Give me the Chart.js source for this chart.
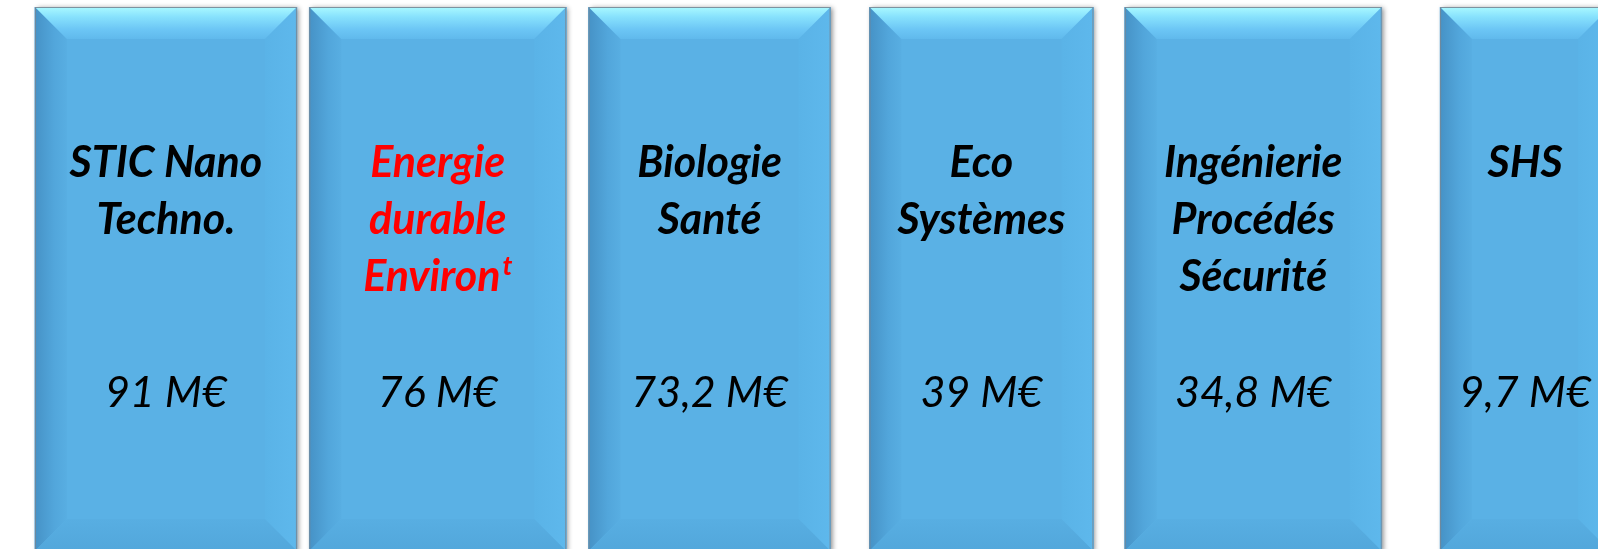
<!DOCTYPE html>
<html>
<head>
<meta charset="utf-8">
<script src="https://cdn.jsdelivr.net/npm/chart.js@4"></script>
<style>
  html, body { margin: 0; padding: 0; background: #fff; overflow: hidden; }
  #wrap { width: 1661px; height: 551px; }
</style>
</head>
<body>
<div id="wrap"><canvas id="chart"></canvas></div>
<script>
// research domains and their budgets (M€)
const domains = [
  ['STIC Nano', 'Techno.'],
  ['Energie', 'durable', 'Environ^t'],
  ['Biologie', 'Santé'],
  ['Eco', 'Systèmes'],
  ['Ingénierie', 'Procédés', 'Sécurité'],
  ['SHS']
]
const budgets = [91, 76, 73.2, 39, 34.8, 9.7]
// every box reaches the top of the picture
const boxLevels = [100, 100, 100, 100, 100, 100]
const highlighted = [false, true, false, false, false, false]

// styling
const boxWidths = [262, 257, 242, 224, 257, 170]
const bevel = 32
const fillColor = '#5ab1e5'

const fmt = v => String(v).replace('.', ',') + ' M€'

const poly = (ctx, pts, fill) => {
  ctx.beginPath()
  ctx.moveTo(pts[0][0], pts[0][1])
  pts.slice(1).forEach(p => ctx.lineTo(p[0], p[1]))
  ctx.closePath()
  ctx.fillStyle = fill
  ctx.fill()
}

const grad = (ctx, x0, y0, x1, y1, stops) => {
  const g = ctx.createLinearGradient(x0, y0, x1, y1)
  stops.forEach(s => g.addColorStop(s[0], s[1]))
  return g
}

const boxRect = (chart, i) => {
  const bar = chart.getDatasetMeta(i).data[i]
  const { x, y, base, width } = bar.getProps(['x', 'y', 'base', 'width'], true)
  return { L: x - width / 2, R: x + width / 2, T: y, B: base, cx: x }
}

const bevelPlugin = {
  id: 'bevelBoxes',
  beforeDatasetsDraw(chart) {
    const ctx = chart.ctx
    domains.forEach((d, i) => {
      const { L, R, T, B } = boxRect(chart, i)
      ctx.save()
      ctx.shadowColor = 'rgba(0,0,0,0.45)'
      ctx.shadowBlur = 5
      ctx.shadowOffsetX = 2
      ctx.shadowOffsetY = 1
      ctx.fillStyle = fillColor
      ctx.fillRect(L, T, R - L, B - T)
      ctx.restore()
    })
  },
  afterDatasetsDraw(chart) {
    const ctx = chart.ctx
    domains.forEach((d, i) => {
      const { L, R, T, B, cx } = boxRect(chart, i)
      const b = bevel
      ctx.save()
      // left side
      poly(ctx, [[L, T], [L + b, T + b], [L + b, B - b], [L, B]],
        grad(ctx, L, 0, L + b, 0, [[0, '#4692c6'], [0.6, '#52a6db'], [1, '#58aee2']]))
      // right side
      poly(ctx, [[R, T], [R, B], [R - b, B - b], [R - b, T + b]],
        grad(ctx, R - b, 0, R, 0, [[0, '#5ab3e7'], [1, '#5eb8ec']]))
      // bottom side
      poly(ctx, [[L, B], [R, B], [R - b, B - b], [L + b, B - b]],
        grad(ctx, 0, B - b, 0, B, [[0, '#58aee2'], [1, '#52a7db']]))
      // top side
      poly(ctx, [[L, T], [R, T], [R - b, T + b], [L + b, T + b]],
        grad(ctx, 0, T, 0, T + b, [[0, '#aaf9ff'], [0.3, '#88e2fd'], [0.7, '#6cc6f5'], [1, '#60b9ec']]))
      // outline
      ctx.strokeStyle = 'rgba(120,135,150,0.9)'
      ctx.lineWidth = 1
      ctx.strokeRect(L + 0.5, T + 0.5, R - L - 1, B - T + 2)

      // texts
      const color = highlighted[i] ? '#ff0000' : '#000000'
      ctx.fillStyle = color
      ctx.textBaseline = 'alphabetic'
      d.forEach((line, k) => {
        const yy = 177 + k * 57
        const [main, sup] = line.split('^')
        ctx.font = 'italic bold 43px Lato'
        const wMain = ctx.measureText(main).width
        let wSup = 0
        if (sup) {
          ctx.font = 'italic bold 27px Lato'
          wSup = ctx.measureText(sup).width + 2
        }
        const x0 = cx - (wMain + wSup) / 2
        ctx.textAlign = 'left'
        ctx.font = 'italic bold 43px Lato'
        ctx.fillText(main, x0, yy)
        if (sup) {
          ctx.font = 'italic bold 27px Lato'
          ctx.fillText(sup, x0 + wMain + 2, yy - 16)
        }
      })
      ctx.fillStyle = '#000000'
      ctx.textAlign = 'center'
      ctx.font = 'italic 43px Lato'
      ctx.fillText(fmt(budgets[i]), cx, 407)
      ctx.restore()
    })
  }
}

new Chart(document.getElementById('chart'), {
  type: 'bar',
  data: {
    labels: domains.map(d => d.join(' ').replace('^', '')),
    datasets: domains.map((d, i) => ({
      label: d.join(' ').replace('^', ''),
      data: boxLevels.map((v, j) => (j === i ? v : null)),
      backgroundColor: fillColor,
      borderWidth: 0,
      barThickness: boxWidths[i],
      grouped: false
    }))
  },
  options: {
    responsive: true,
    maintainAspectRatio: false,
    animation: false,
    layout: { padding: { left: 30, top: 7, right: 0, bottom: 0 } },
    plugins: {
      legend: { display: false },
      tooltip: { enabled: false }
    },
    scales: {
      x: { display: false, offset: true },
      y: { display: false, min: 0, max: 100 }
    }
  },
  plugins: [bevelPlugin]
})
</script>
</body>
</html>
